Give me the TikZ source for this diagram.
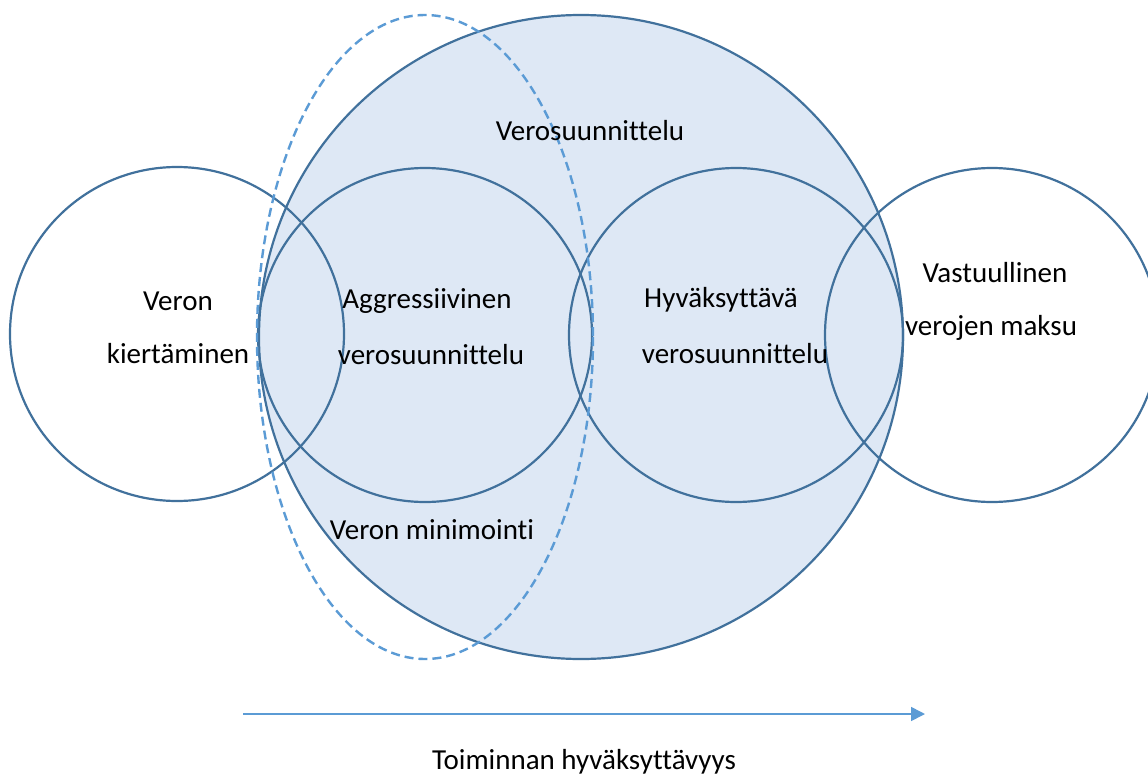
\documentclass[tikz,border=0pt]{standalone}
\usepackage{fontspec}
\setmainfont[Ligatures=NoCommon]{Carlito}
\usetikzlibrary{arrows.meta}
\definecolor{strokeblue}{HTML}{41719C}
\definecolor{fillblue}{HTML}{DEE8F5}
\definecolor{dashblue}{HTML}{5B9BD5}
\tikzset{
  ring/.style={draw=strokeblue, line width=2.2pt},
  lbl/.style={font=\fontsize{29}{34}\selectfont, text=black, inner sep=0pt, anchor=center},
}
\begin{document}
\begin{tikzpicture}[x=1pt,y=-1pt]
\useasboundingbox (0,0) rectangle (1148,776);
\clip (0,0) rectangle (1148,776);
\fill[white] (0,0) rectangle (1148,776);
% big circle
\draw[ring, fill=fillblue] (581,337) circle (322);
% small circles
\draw[ring] (177,334) circle (167);
\draw[ring] (425,335) circle (167);
\draw[ring] (736,335) circle (167);
\draw[ring] (992,335) circle (167);
% dashed ellipse
\draw[draw=dashblue, line width=2.4pt, dash pattern=on 9pt off 5pt] (425,337) ellipse [x radius=168, y radius=322];
% texts
\node[lbl] (t1) at (178,301) {Veron};
\node[lbl] (t2) at (178,354) {kiertäminen};
\node[lbl] (t3) at (427,301) {Aggressiivinen};
\node[lbl] (t4) at (431,355) {verosuunnittelu};
\node[lbl] (t5) at (721,300) {Hyväksyttävä};
\node[lbl] (t6) at (735,354) {verosuunnittelu};
\node[lbl] (t7) at (995,273) {Vastuullinen};
\node[lbl] (t8) at (991,328) {verojen maksu};
\node[lbl] (t9) at (590,131) {Verosuunnittelu};
\node[lbl] (t10) at (432,530) {Veron minimointi};
\node[lbl] (t11) at (584,762) {Toiminnan hyväksyttävyys};
% arrow
\coordinate (a0) at (243,714);
\coordinate (a1) at (925,714);
\draw[draw=dashblue, line width=1.6pt, -{Triangle[length=14pt,width=14pt]}] (a0) -- (a1);
\end{tikzpicture}
\end{document}
